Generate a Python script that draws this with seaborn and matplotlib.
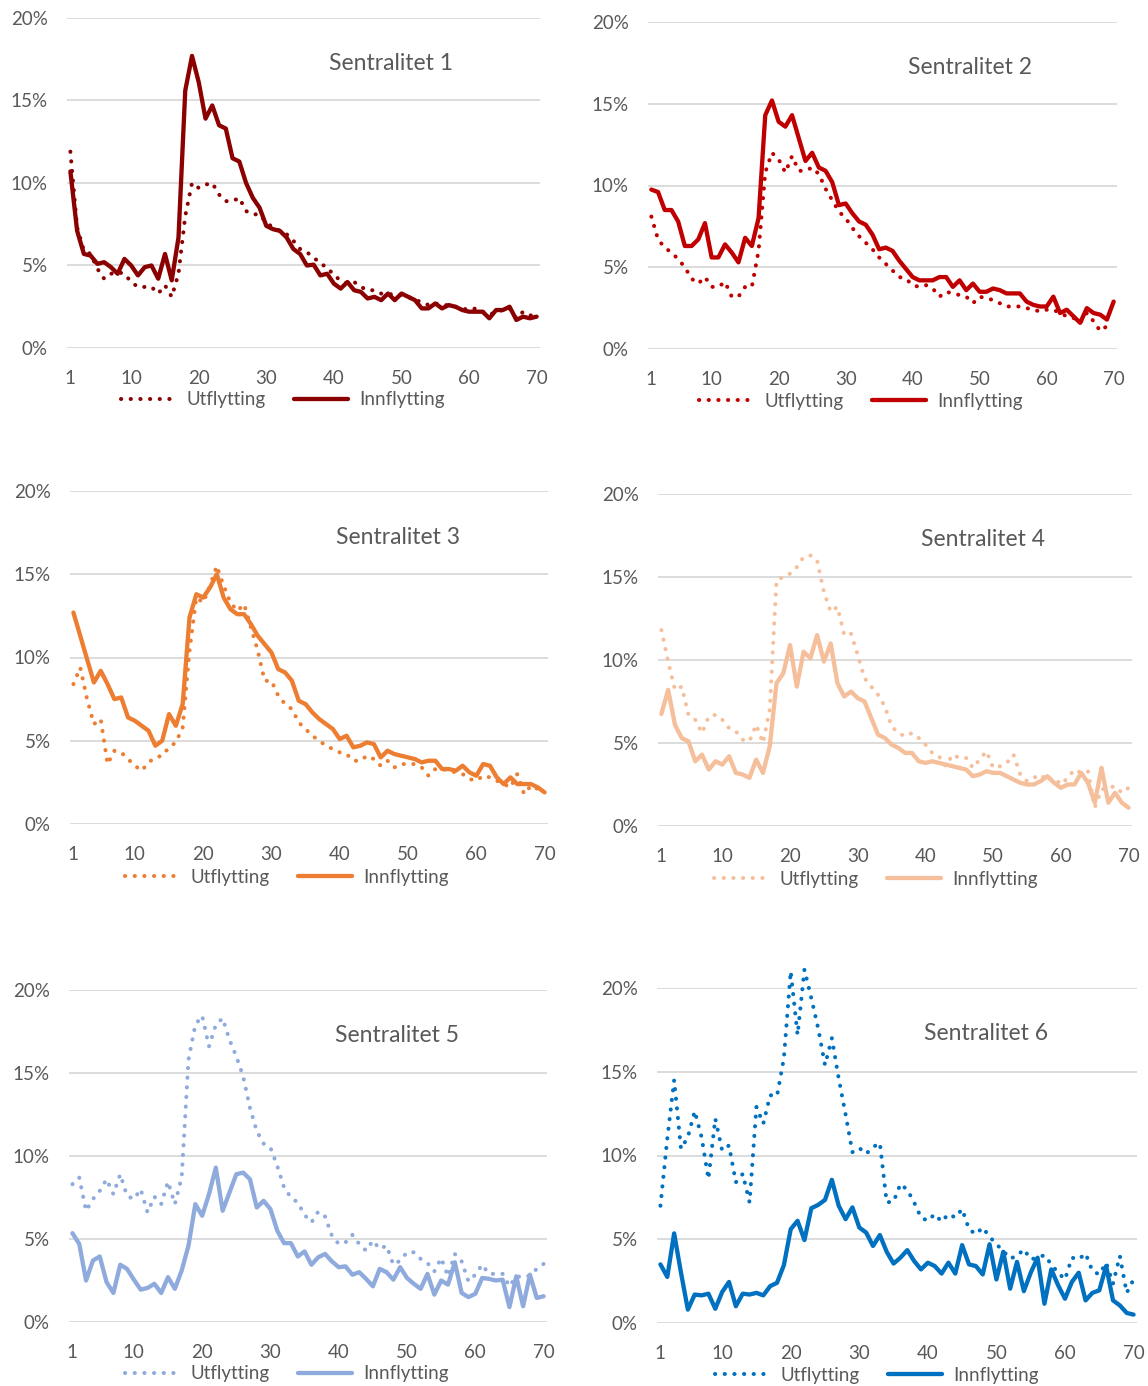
import matplotlib
matplotlib.use("Agg")
import matplotlib.pyplot as plt
import numpy as np
import pandas as pd
import seaborn as sns

# Age axis (1..70) and tick labels
ages = list(range(1, 71))
x_ticks = [1, 10, 20, 30, 40, 50, 60, 70]
y_ticks = [0, 5, 10, 15, 20]

# Share (%) moving out / moving in, by age, per centrality class
s1_ut = [11.9, 7.3, 5.9, 5.7, 4.8, 4.2, 4.5, 4.6, 4.5, 4.0,
         3.7, 3.7, 3.7, 3.3, 3.8, 3.1, 4.5, 8.0, 10.0, 9.7,
         9.9, 10.0, 9.3, 8.9, 8.9, 9.1, 8.3, 8.1, 8.1, 7.6,
         7.3, 7.1, 6.9, 6.5, 6.0, 5.8, 5.5, 5.1, 4.9, 4.4,
         4.1, 3.9, 4.0, 3.7, 3.5, 3.5, 3.3, 3.3, 3.2, 3.2,
         3.1, 2.9, 2.8, 2.6, 2.7, 2.6, 2.6, 2.5, 2.4, 2.3,
         2.4, 2.2, 2.0, 2.2, 2.3, 2.4, 1.8, 2.2, 2.0, 1.8]
s1_inn = [10.7, 7.1, 5.7, 5.6, 5.1, 5.2, 4.9, 4.5, 5.4, 5.0,
          4.4, 4.9, 5.0, 4.2, 5.7, 4.1, 6.7, 15.6, 17.7, 16.1,
          13.9, 14.7, 13.5, 13.3, 11.5, 11.3, 10.0, 9.1, 8.5, 7.4,
          7.2, 7.1, 6.7, 6.0, 5.7, 5.0, 5.05, 4.4, 4.5, 3.9,
          3.6, 4.0, 3.5, 3.4, 3.0, 3.1, 2.9, 3.3, 2.9, 3.3,
          3.1, 2.9, 2.4, 2.4, 2.7, 2.4, 2.6, 2.5, 2.3, 2.2,
          2.2, 2.2, 1.8, 2.3, 2.3, 2.5, 1.7, 1.9, 1.8, 1.9]

s2_ut = [8.1, 6.7, 6.2, 5.9, 5.5, 5.0, 4.3, 4.0, 4.4, 3.8,
         3.8, 4.1, 3.2, 3.2, 3.8, 3.8, 6.0, 10.8, 12.0, 11.6,
         10.8, 11.8, 10.9, 10.9, 11.1, 10.7, 9.8, 9.1, 8.4, 8.0,
         7.4, 6.9, 6.5, 6.1, 5.6, 5.2, 4.8, 4.4, 4.3, 3.9,
         3.8, 3.9, 3.7, 3.2, 3.5, 3.4, 3.3, 3.2, 2.8, 3.2,
         3.1, 3.0, 2.8, 2.6, 2.6, 2.6, 2.5, 2.4, 2.3, 2.4,
         2.4, 2.2, 2.0, 1.9, 1.6, 2.2, 1.7, 1.1, 1.4, 1.4]
s2_inn = [9.75, 9.6, 8.5, 8.5, 7.8, 6.3, 6.3, 6.7, 7.7, 5.6,
          5.6, 6.4, 5.9, 5.3, 6.8, 6.3, 8.0, 14.3, 15.2, 13.9,
          13.6, 14.3, 12.9, 11.5, 12.0, 11.1, 10.9, 10.2, 8.8, 8.9,
          8.3, 7.8, 7.6, 7.0, 6.1, 6.2, 6.0, 5.4, 4.9, 4.4,
          4.2, 4.2, 4.2, 4.4, 4.4, 3.8, 4.2, 3.6, 4.0, 3.5,
          3.5, 3.7, 3.6, 3.4, 3.4, 3.4, 2.9, 2.7, 2.6, 2.6,
          3.2, 2.2, 2.4, 2.0, 1.6, 2.5, 2.2, 2.1, 1.8, 2.9]

s3_ut = [8.4, 9.4, 7.5, 6.0, 6.3, 3.6, 4.4, 4.3, 3.9, 3.5,
         3.2, 3.7, 4.0, 4.1, 4.6, 4.9, 5.8, 10.4, 13.6, 13.3,
         14.3, 15.5, 14.3, 13.3, 12.8, 13.2, 11.8, 10.4, 8.6, 8.6,
         7.7, 7.2, 6.9, 6.1, 5.7, 5.3, 5.0, 4.7, 4.5, 4.3,
         4.2, 3.8, 3.8, 4.1, 3.9, 3.5, 3.8, 3.4, 3.6, 3.6,
         3.6, 3.4, 2.9, 3.3, 3.3, 3.2, 3.1, 3.0, 2.7, 2.6,
         2.9, 2.8, 2.6, 2.4, 2.2, 3.0, 1.8, 2.3, 2.1, 2.0]
s3_inn = [12.7, 11.3, 9.9, 8.5, 9.2, 8.4, 7.5, 7.6, 6.4, 6.2,
          5.9, 5.6, 4.7, 5.0, 6.6, 5.9, 7.2, 12.4, 13.8, 13.6,
          14.2, 15.0, 13.6, 12.9, 12.6, 12.6, 12.0, 11.3, 10.8, 10.3,
          9.3, 9.1, 8.6, 7.4, 7.2, 6.7, 6.3, 6.0, 5.7, 5.1,
          5.3, 4.6, 4.7, 4.9, 4.8, 4.0, 4.4, 4.2, 4.1, 4.0,
          3.9, 3.7, 3.8, 3.8, 3.3, 3.3, 3.2, 3.5, 3.1, 2.9,
          3.6, 3.5, 2.8, 2.4, 2.8, 2.4, 2.4, 2.4, 2.2, 1.9]

s4_ut = [11.8, 9.9, 8.2, 8.4, 6.7, 6.4, 5.6, 6.6, 6.7, 6.4,
         5.9, 5.7, 5.2, 5.1, 6.1, 5.0, 7.0, 14.8, 15.0, 15.2,
         15.6, 16.2, 16.3, 16.0, 14.1, 12.9, 13.2, 11.5, 11.6, 10.3,
         8.9, 8.4, 7.9, 7.2, 6.0, 5.6, 5.4, 5.6, 5.3, 4.9,
         4.4, 4.2, 3.6, 4.3, 4.1, 4.1, 3.5, 4.0, 4.5, 3.5,
         3.6, 3.8, 4.3, 3.1, 2.7, 2.9, 3.1, 2.7, 2.9, 2.5,
         2.9, 3.4, 3.2, 3.3, 1.1, 2.2, 2.3, 2.4, 2.0, 2.3]
s4_inn = [6.75, 8.2, 6.1, 5.3, 5.1, 3.9, 4.3, 3.4, 3.9, 3.7,
          4.2, 3.2, 3.1, 2.9, 4.0, 3.2, 4.8, 8.6, 9.2, 10.9,
          8.4, 10.5, 10.1, 11.5, 9.9, 11.0, 8.6, 7.8, 8.1, 7.7,
          7.5, 6.5, 5.5, 5.3, 4.9, 4.7, 4.4, 4.4, 3.9, 3.8,
          3.9, 3.8, 3.7, 3.6, 3.5, 3.4, 3.0, 3.1, 3.3, 3.2,
          3.2, 3.0, 2.8, 2.6, 2.5, 2.5, 2.7, 3.0, 2.6, 2.3,
          2.5, 2.5, 3.2, 2.6, 1.4, 3.5, 1.4, 2.0, 1.4, 1.1]

s5_ut = [8.3, 8.7, 6.7, 7.4, 7.9, 8.6, 7.7, 8.9, 7.6, 7.4,
         8.0, 6.6, 7.55, 7.1, 8.45, 7.1, 8.7, 15.8, 17.9, 18.45,
         16.6, 17.9, 18.3, 17.0, 16.0, 14.8, 12.9, 11.5, 10.75, 10.5,
         9.4, 8.1, 7.5, 7.2, 6.45, 6.0, 6.65, 6.35, 5.2, 4.7,
         4.8, 5.25, 4.7, 4.3, 4.9, 4.4, 4.6, 3.45, 3.7, 4.2,
         4.2, 3.8, 3.55, 3.05, 3.85, 2.75, 4.1, 3.65, 2.45, 2.85,
         3.45, 2.9, 2.9, 2.9, 2.15, 2.75, 2.7, 2.8, 3.2, 3.5]
s5_inn = [5.35, 4.7, 2.5, 3.7, 3.95, 2.4, 1.75, 3.45, 3.2, 2.55,
          1.95, 2.05, 2.3, 1.75, 2.7, 2.0, 3.1, 4.6, 7.1, 6.4,
          7.7, 9.3, 6.7, 7.8, 8.9, 9.0, 8.6, 6.9, 7.3, 6.8,
          5.5, 4.75, 4.75, 3.95, 4.25, 3.45, 3.9, 4.1, 3.65, 3.3,
          3.35, 2.85, 3.0, 2.6, 2.15, 3.2, 3.0, 2.55, 3.3, 2.65,
          2.3, 2.0, 2.9, 1.65, 2.5, 2.25, 3.6, 1.75, 1.5, 1.7,
          2.65, 2.6, 2.5, 2.55, 0.9, 2.75, 0.95, 2.85, 1.45, 1.55]

s6_ut = [7.0, 11.0, 14.5, 10.4, 11.1, 12.65, 11.1, 8.6, 12.2, 10.3,
         10.6, 8.4, 8.9, 7.2, 12.9, 11.9, 13.6, 13.55, 15.8, 21.0,
         17.2, 21.1, 19.4, 17.6, 15.4, 17.0, 14.6, 12.45, 10.2, 10.45,
         10.1, 10.5, 10.75, 7.2, 7.25, 8.3, 7.95, 7.2, 6.3, 6.1,
         6.5, 6.05, 6.5, 6.3, 6.8, 5.6, 5.3, 5.7, 5.15, 4.7,
         4.3, 3.85, 4.0, 4.4, 3.8, 3.9, 4.05, 3.5, 3.0, 2.6,
         3.9, 3.8, 4.15, 3.1, 2.9, 3.6, 2.35, 4.0, 1.8, 2.6]
s6_inn = [3.5, 2.75, 5.35, 3.0, 0.8, 1.7, 1.65, 1.75, 0.85, 1.85,
          2.45, 1.0, 1.75, 1.7, 1.8, 1.65, 2.2, 2.4, 3.45, 5.6,
          6.1, 4.95, 6.85, 7.05, 7.35, 8.55, 7.0, 6.2, 6.9, 5.7,
          5.4, 4.6, 5.25, 4.25, 3.55, 3.9, 4.35, 3.7, 3.2, 3.6,
          3.4, 2.95, 3.6, 2.95, 4.65, 3.5, 3.4, 2.9, 4.7, 2.6,
          4.25, 2.05, 3.65, 1.9, 3.0, 3.9, 1.15, 3.2, 2.25, 1.45,
          2.45, 3.0, 1.35, 1.8, 1.95, 3.4, 1.35, 1.05, 0.6, 0.5]

titles = ["Sentralitet 1", "Sentralitet 2", "Sentralitet 3",
          "Sentralitet 4", "Sentralitet 5", "Sentralitet 6"]
colors = ["#8B0000", "#C00000", "#ED7D31", "#F5BF9B", "#8FAADC", "#0070C0"]
series_ut = [s1_ut, s2_ut, s3_ut, s4_ut, s5_ut, s6_ut]
series_inn = [s1_inn, s2_inn, s3_inn, s4_inn, s5_inn, s6_inn]

sns.set_theme(style="white")
plt.rcParams["font.family"] = ["Lato", "DejaVu Sans"]
TXT = "#595959"

W, H = 1148, 1386
fig = plt.figure(figsize=(W / 100, H / 100), dpi=100)

# panel boxes in pixels: left, right, top, bottom
boxes = [(67, 540, 18, 348), (648, 1117, 22, 349),
         (70, 548, 491, 824), (658, 1132, 494, 826),
         (69, 547, 990, 1322), (657, 1137, 988, 1323)]
title_pos = [(391, 63), (970, 67), (398, 537), (983, 540), (397, 1035), (986, 1034)]
legend_pos = [(283, 400), (861, 401), (287, 877), (876, 879), (287, 1374), (877, 1375)]

for i in range(6):
    l, r, t, b = boxes[i]
    ax = fig.add_axes([l / W, 1 - b / H, (r - l) / W, (b - t) / H])
    df = pd.DataFrame({"alder": ages, "Utflytting": series_ut[i], "Innflytting": series_inn[i]})
    sns.lineplot(data=df, x="alder", y="Utflytting", ax=ax, color=colors[i], lw=2.9,
                 linestyle=(0, (0.05, 2.35)), dash_capstyle="round", clip_on=False,
                 label="Utflytting")
    sns.lineplot(data=df, x="alder", y="Innflytting", ax=ax, color=colors[i], lw=3.1,
                 solid_joinstyle="round", solid_capstyle="round", clip_on=False,
                 label="Innflytting")
    ax.set_xlim(0.5, 70.5)
    ax.set_ylim(0, 20)
    ax.set_xticks(x_ticks)
    ax.set_yticks(y_ticks)
    ax.set_yticklabels([f"{v}%" for v in y_ticks])
    ax.set_xlabel("")
    ax.set_ylabel("")
    ax.grid(False)
    ax.yaxis.grid(True, color="#D9D9D9", lw=1.3)
    ax.set_axisbelow(True)
    for s in ax.spines.values():
        s.set_visible(False)
    ax.tick_params(axis="both", length=0, labelsize=13.5, labelcolor=TXT)
    ax.tick_params(axis="x", pad=16)
    ax.tick_params(axis="y", pad=14)
    ax.patch.set_alpha(0)

    tx, ty = title_pos[i]
    fig.text(tx / W, 1 - ty / H, titles[i], ha="center", va="center",
             fontsize=16.5, color=TXT)

    lx, ly = legend_pos[i]
    handles, labels = ax.get_legend_handles_labels()
    ax.legend(handles, labels, loc="center", bbox_to_anchor=(lx / W, 1 - ly / H),
              bbox_transform=fig.transFigure, ncol=2, frameon=False,
              fontsize=13.5, labelcolor=TXT, handlelength=2.9,
              handletextpad=0.6, columnspacing=1.5, borderpad=0)

fig.savefig("out.png", dpi=100, facecolor="white")
